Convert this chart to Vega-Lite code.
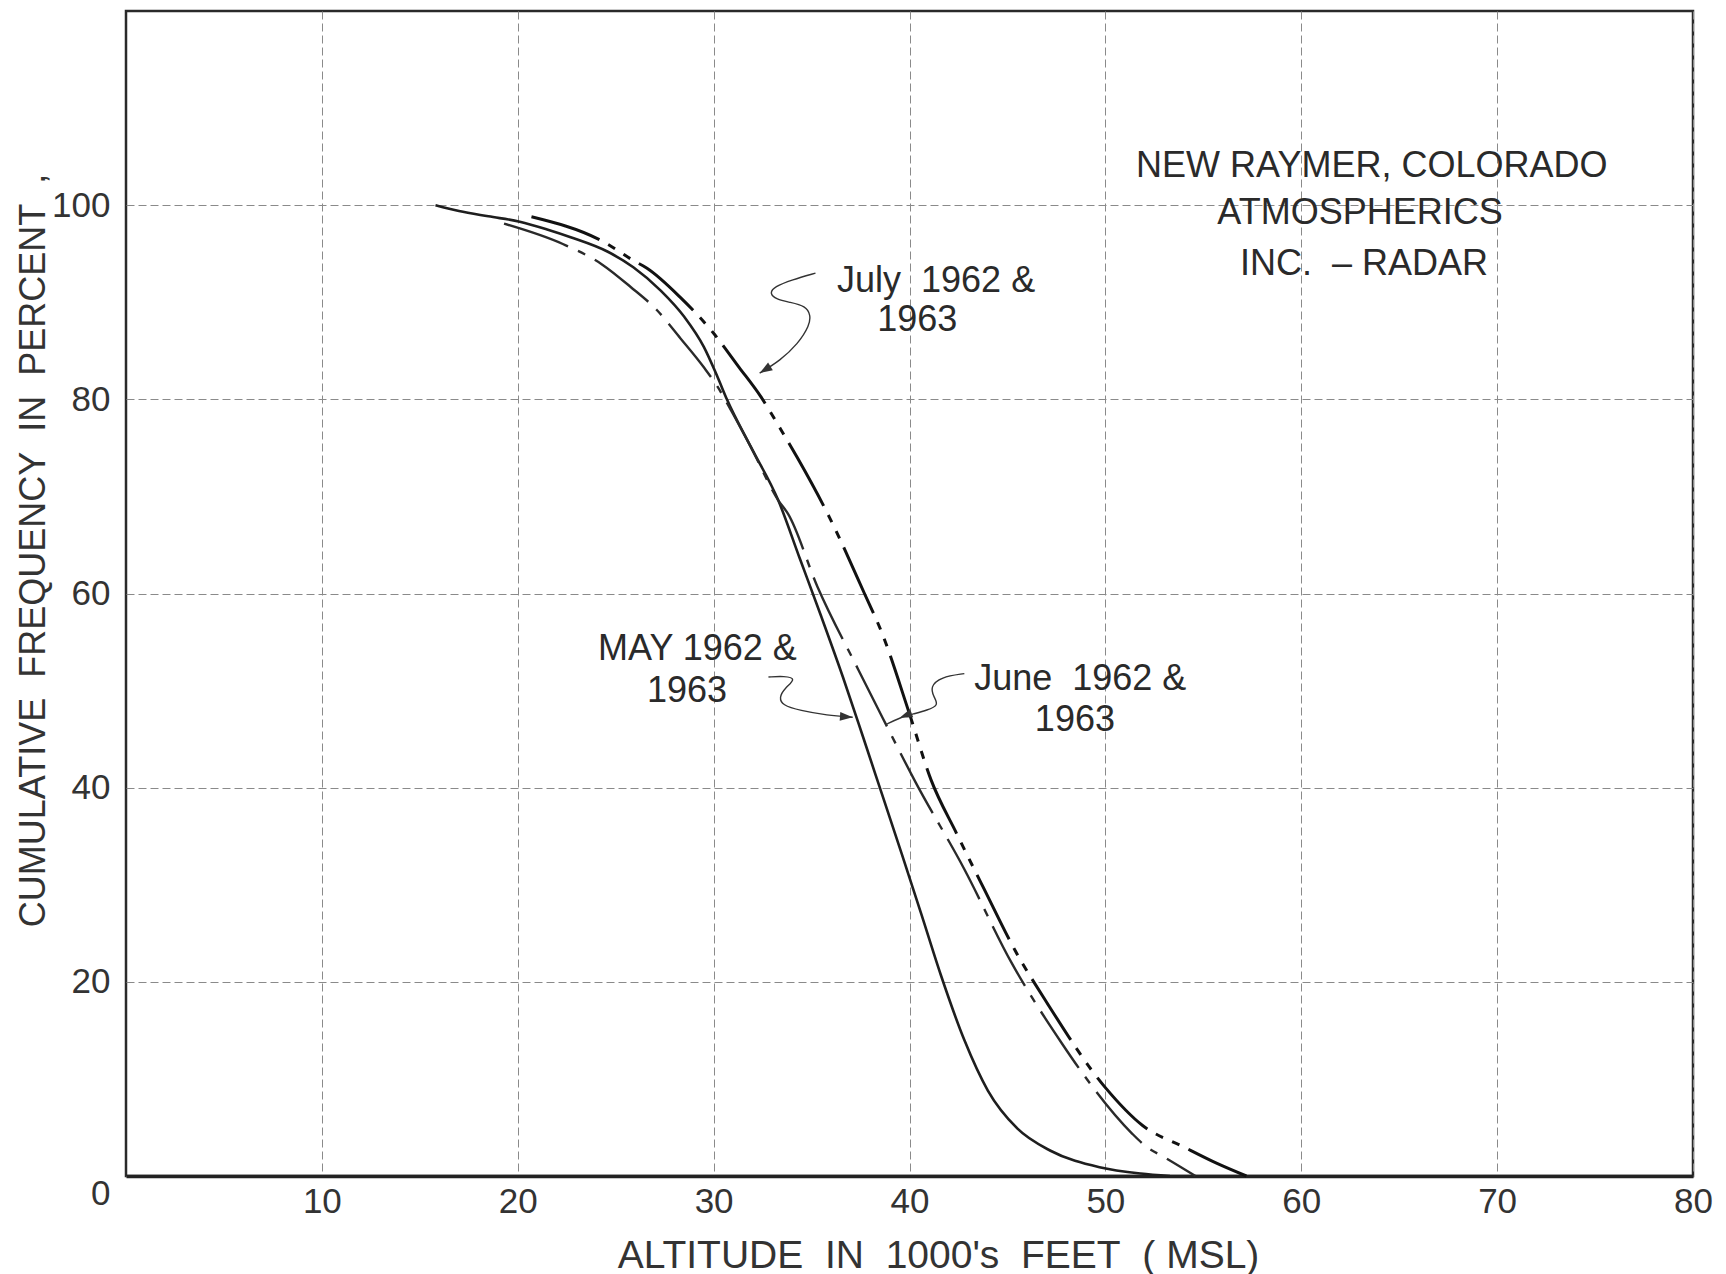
{
  "$schema": "https://vega.github.io/schema/vega-lite/v6.json",
  "width": 1567,
  "height": 1165,
  "autosize": {"type": "none"},
  "padding": {"left": 126, "top": 11, "right": 33, "bottom": 98},
  "background": "white",
  "config": {
    "font": "Liberation Sans",
    "view": {"stroke": "#2a2a2a", "strokeWidth": 2.5}
  },
  "datasets": {
    "curves": [
      {"series": "May", "x": 15.8, "y": 100},
      {"series": "May", "x": 17.0, "y": 99.4},
      {"series": "May", "x": 18.5, "y": 98.85},
      {"series": "May", "x": 20.1, "y": 98.3},
      {"series": "May", "x": 21.5, "y": 97.5},
      {"series": "May", "x": 22.7, "y": 96.7},
      {"series": "May", "x": 24.6, "y": 95.2},
      {"series": "May", "x": 25.9, "y": 93.6},
      {"series": "May", "x": 27.3, "y": 91.2},
      {"series": "May", "x": 28.5, "y": 88.5},
      {"series": "May", "x": 29.5, "y": 85.4},
      {"series": "May", "x": 30.2, "y": 82.3},
      {"series": "May", "x": 30.7, "y": 79.9},
      {"series": "May", "x": 31.9, "y": 75.1},
      {"series": "May", "x": 33.3, "y": 69.6},
      {"series": "May", "x": 34.4, "y": 63.6},
      {"series": "May", "x": 35.5, "y": 57.6},
      {"series": "May", "x": 36.6, "y": 51.4},
      {"series": "May", "x": 37.6, "y": 45.4},
      {"series": "May", "x": 38.6, "y": 39.3},
      {"series": "May", "x": 39.6, "y": 33.2},
      {"series": "May", "x": 40.6, "y": 27.0},
      {"series": "May", "x": 41.6, "y": 20.7},
      {"series": "May", "x": 42.8, "y": 14.0},
      {"series": "May", "x": 44.0, "y": 8.8},
      {"series": "May", "x": 45.5, "y": 4.9},
      {"series": "May", "x": 47.2, "y": 2.6},
      {"series": "May", "x": 49.7, "y": 0.9},
      {"series": "May", "x": 51.8, "y": 0.25},
      {"series": "May", "x": 53.3, "y": 0},
      {"series": "June", "x": 19.3, "y": 98.1},
      {"series": "June", "x": 22.3, "y": 96.0},
      {"series": "June", "x": 24.3, "y": 93.9},
      {"series": "June", "x": 25.75, "y": 91.6},
      {"series": "June", "x": 27.1, "y": 89.2},
      {"series": "June", "x": 28.3, "y": 86.3},
      {"series": "June", "x": 29.5, "y": 83.3},
      {"series": "June", "x": 30.2, "y": 81.3},
      {"series": "June", "x": 30.8, "y": 79.2},
      {"series": "June", "x": 31.9, "y": 75.1},
      {"series": "June", "x": 33.3, "y": 69.6},
      {"series": "June", "x": 33.8, "y": 68.2},
      {"series": "June", "x": 35.3, "y": 60.7},
      {"series": "June", "x": 37.4, "y": 52.1},
      {"series": "June", "x": 38.65, "y": 47.1},
      {"series": "June", "x": 40.3, "y": 40.6},
      {"series": "June", "x": 42.8, "y": 31.6},
      {"series": "June", "x": 45.2, "y": 22.0},
      {"series": "June", "x": 47.8, "y": 13.6},
      {"series": "June", "x": 48.9, "y": 10.4},
      {"series": "June", "x": 51.35, "y": 4.4},
      {"series": "June", "x": 52.1, "y": 3.0},
      {"series": "June", "x": 53.0, "y": 1.95},
      {"series": "June", "x": 54.6, "y": 0},
      {"series": "July", "x": 20.7, "y": 98.8},
      {"series": "July", "x": 24.4, "y": 96.2},
      {"series": "July", "x": 25.9, "y": 94.3},
      {"series": "July", "x": 26.6, "y": 93.5},
      {"series": "July", "x": 28.3, "y": 90.5},
      {"series": "July", "x": 30.0, "y": 86.8},
      {"series": "July", "x": 31.3, "y": 83.3},
      {"series": "July", "x": 32.4, "y": 80.3},
      {"series": "July", "x": 33.4, "y": 77.0},
      {"series": "July", "x": 34.3, "y": 73.9},
      {"series": "July", "x": 35.9, "y": 67.9},
      {"series": "July", "x": 37.7, "y": 60.0},
      {"series": "July", "x": 38.6, "y": 55.9},
      {"series": "July", "x": 40.0, "y": 47.6},
      {"series": "July", "x": 41.1, "y": 40.8},
      {"series": "July", "x": 42.4, "y": 35.3},
      {"series": "July", "x": 43.8, "y": 29.6},
      {"series": "July", "x": 45.4, "y": 23.2},
      {"series": "July", "x": 47.0, "y": 17.9},
      {"series": "July", "x": 50.0, "y": 9.1},
      {"series": "July", "x": 51.9, "y": 5.2},
      {"series": "July", "x": 54.0, "y": 3.0},
      {"series": "July", "x": 55.7, "y": 1.3},
      {"series": "July", "x": 57.2, "y": 0}
    ],
    "leaders": [
      {"arrow": "July", "i": 1, "x": 35.2, "y": 93.0},
      {"arrow": "July", "i": 2, "x": 34.0, "y": 92.3},
      {"arrow": "July", "i": 3, "x": 33.1, "y": 91.6},
      {"arrow": "July", "i": 4, "x": 32.85, "y": 90.9},
      {"arrow": "July", "i": 5, "x": 33.2, "y": 90.3},
      {"arrow": "July", "i": 6, "x": 33.9, "y": 90.0},
      {"arrow": "July", "i": 7, "x": 34.7, "y": 89.6},
      {"arrow": "July", "i": 8, "x": 34.95, "y": 88.7},
      {"arrow": "July", "i": 9, "x": 34.9, "y": 87.6},
      {"arrow": "July", "i": 10, "x": 34.3, "y": 85.7},
      {"arrow": "July", "i": 11, "x": 33.4, "y": 84.0},
      {"arrow": "July", "i": 12, "x": 32.35, "y": 82.7},
      {"arrow": "May", "i": 1, "x": 32.8, "y": 51.4},
      {"arrow": "May", "i": 2, "x": 33.6, "y": 51.5},
      {"arrow": "May", "i": 3, "x": 34.25, "y": 51.25},
      {"arrow": "May", "i": 4, "x": 33.6, "y": 50.2},
      {"arrow": "May", "i": 5, "x": 33.35, "y": 49.3},
      {"arrow": "May", "i": 6, "x": 33.5, "y": 48.5},
      {"arrow": "May", "i": 7, "x": 34.4, "y": 47.95},
      {"arrow": "May", "i": 8, "x": 35.8, "y": 47.45},
      {"arrow": "May", "i": 9, "x": 37.1, "y": 47.25},
      {"arrow": "June", "i": 1, "x": 42.8, "y": 51.75},
      {"arrow": "June", "i": 2, "x": 41.6, "y": 51.4},
      {"arrow": "June", "i": 3, "x": 41.05, "y": 50.4},
      {"arrow": "June", "i": 4, "x": 41.25, "y": 49.3},
      {"arrow": "June", "i": 5, "x": 41.5, "y": 48.5},
      {"arrow": "June", "i": 6, "x": 40.9, "y": 47.97},
      {"arrow": "June", "i": 7, "x": 40.2, "y": 47.6},
      {"arrow": "June", "i": 8, "x": 39.5, "y": 47.2},
      {"arrow": "June", "i": 9, "x": 38.8, "y": 46.5}
    ],
    "heads": [
      {"arrow": "July", "x": 32.35, "y": 82.7},
      {"arrow": "May", "x": 37.1, "y": 47.25},
      {"arrow": "June", "x": 39.5, "y": 47.2}
    ],
    "block": [
      {"x": 63.6, "y": 104.0, "text": "NEW RAYMER, COLORADO"},
      {"x": 63.0, "y": 99.2, "text": "ATMOSPHERICS"},
      {"x": 63.2, "y": 93.9, "text": "INC.\u00a0\u00a0–\u00a0RADAR"}
    ],
    "labels": [
      {"x": 36.3, "y": 92.2, "text": "July\u00a0\u00a01962 &"},
      {"x": 38.35, "y": 88.2, "text": "1963"},
      {"x": 24.1, "y": 54.3, "text": "MAY 1962 &"},
      {"x": 26.6, "y": 50.0, "text": "1963"},
      {"x": 43.3, "y": 51.2, "text": "June\u00a0\u00a01962 &"},
      {"x": 46.4, "y": 47.0, "text": "1963"}
    ]
  },
  "encoding": {
    "x": {
      "field": "x",
      "type": "quantitative",
      "scale": {"domain": [0, 80], "nice": false, "zero": false},
      "axis": {
        "values": [10, 20, 30, 40, 50, 60, 70, 80],
        "grid": true,
        "gridColor": "#8a8a8a",
        "gridDash": [8, 4],
        "gridWidth": 1,
        "ticks": false,
        "domainColor": "#222",
        "domainWidth": 3.5,
        "labelFontSize": 35,
        "labelColor": "#333",
        "labelPadding": 8,
        "labelFlush": false,
        "labelOverlap": false,
        "title": "ALTITUDE\u00a0\u00a0IN\u00a0\u00a01000's\u00a0\u00a0FEET\u00a0\u00a0(\u00a0MSL)",
        "titleFontSize": 39,
        "titleFontWeight": "normal",
        "titleColor": "#333",
        "titleX": 812,
        "titleY": 79,
        "titleAlign": "center",
        "titleBaseline": "middle"
      }
    },
    "y": {
      "field": "y",
      "type": "quantitative",
      "scale": {"domain": [0, 120], "nice": false, "zero": false},
      "axis": {
        "values": [0, 20, 40, 60, 80, 100],
        "grid": true,
        "gridColor": "#8a8a8a",
        "gridDash": [8, 4],
        "gridWidth": 1,
        "ticks": false,
        "domain": false,
        "labelFontSize": 35,
        "labelColor": "#333",
        "labelPadding": 16,
        "labelFlush": false,
        "labelOverlap": false,
        "labelBaseline": {"condition": {"test": "datum.value === 0", "value": "top"}, "value": "middle"},
        "title": "CUMULATIVE\u00a0\u00a0FREQUENCY\u00a0\u00a0IN\u00a0\u00a0PERCENT\u00a0\u00a0,",
        "titleFontSize": 36,
        "titleFontWeight": "normal",
        "titleColor": "#333",
        "titleAngle": 270,
        "titleX": -93,
        "titleY": 539,
        "titleAlign": "center",
        "titleBaseline": "middle"
      }
    }
  },
  "layer": [
    {
      "data": {"name": "curves"},
      "transform": [{"filter": "datum.series === 'May'"}],
      "mark": {"type": "line", "interpolate": "monotone", "color": "#1e1e1e", "strokeWidth": 2.6}
    },
    {
      "data": {"name": "curves"},
      "transform": [{"filter": "datum.series === 'June'"}],
      "mark": {"type": "line", "interpolate": "monotone", "color": "#2a2a2a", "strokeWidth": 2.4, "strokeDash": [68, 11, 8, 11]}
    },
    {
      "data": {"name": "curves"},
      "transform": [{"filter": "datum.series === 'July'"}],
      "mark": {"type": "line", "interpolate": "monotone", "color": "#111", "strokeWidth": 3, "strokeDash": [72, 10, 8, 10, 8, 10]}
    },
    {
      "data": {"name": "leaders"},
      "mark": {"type": "line", "interpolate": "basis", "color": "#333", "strokeWidth": 1.4},
      "encoding": {"detail": {"field": "arrow"}, "order": {"field": "i", "type": "quantitative"}}
    },
    {
      "data": {"name": "heads"},
      "transform": [{"filter": "datum.arrow === 'July'"}],
      "mark": {"type": "point", "shape": "M0,0L0.35,1L-0.35,1Z", "size": 650, "filled": true, "color": "#333", "opacity": 1, "angle": 238}
    },
    {
      "data": {"name": "heads"},
      "transform": [{"filter": "datum.arrow === 'May'"}],
      "mark": {"type": "point", "shape": "M0,0L0.35,1L-0.35,1Z", "size": 650, "filled": true, "color": "#333", "opacity": 1, "angle": 94}
    },
    {
      "data": {"name": "heads"},
      "transform": [{"filter": "datum.arrow === 'June'"}],
      "mark": {"type": "point", "shape": "M0,0L0.35,1L-0.35,1Z", "size": 650, "filled": true, "color": "#333", "opacity": 1, "angle": 249}
    },
    {
      "data": {"name": "block"},
      "mark": {"type": "text", "align": "center", "baseline": "middle", "fontSize": 36, "color": "#2a2a2a"},
      "encoding": {"text": {"field": "text"}}
    },
    {
      "data": {"name": "labels"},
      "mark": {"type": "text", "align": "left", "baseline": "middle", "fontSize": 36, "color": "#2a2a2a"},
      "encoding": {"text": {"field": "text"}}
    }
  ]
}
